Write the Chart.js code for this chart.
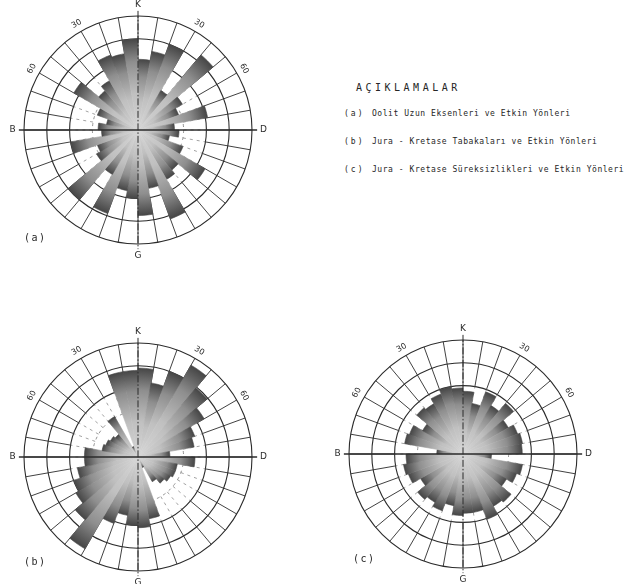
<!DOCTYPE html>
<html lang="tr">
<head>
<meta charset="utf-8">
<title>Gül diyagramları</title>
<script src="https://cdn.jsdelivr.net/npm/chart.js@4.4.1/dist/chart.umd.min.js"></script>
<style>
  html, body { margin: 0; padding: 0; background: #fff; }
  body { width: 631px; height: 584px; position: relative; overflow: hidden;
         font-family: "DejaVu Sans Mono", monospace; color: #262626; }
  canvas.rose { position: absolute; }
  .tag { position: absolute; font-size: 10px; letter-spacing: 1.5px; }
  #title { position: absolute; left: 356px; top: 82px; font-size: 10px; letter-spacing: 3.5px; }
  .item { position: absolute; left: 344px; font-size: 8px; letter-spacing: 0.55px; white-space: nowrap; }
  .item span { display: inline-block; width: 28px; letter-spacing: 2px; }
</style>
</head>
<body>
<canvas id="roseA" class="rose" width="280" height="280" style="left:-2px;top:-10px"></canvas>
<canvas id="roseB" class="rose" width="280" height="280" style="left:-2px;top:317px"></canvas>
<canvas id="roseC" class="rose" width="280" height="280" style="left:323px;top:314px"></canvas>

<div class="tag" style="left:24px;top:232px">(a)</div>
<div class="tag" style="left:24px;top:556px">(b)</div>
<div class="tag" style="left:353px;top:553px">(c)</div>

<div id="title">AÇIKLAMALAR</div>
<div class="item" style="top:109px"><span>(a)</span>Oolit Uzun Eksenleri ve Etkin Yönleri</div>
<div class="item" style="top:137px"><span>(b)</span>Jura - Kretase Tabakaları ve Etkin Yönleri</div>
<div class="item" style="top:165px"><span>(c)</span>Jura - Kretase Süreksizlikleri ve Etkin Yönleri</div>

<script>
// 10-degree sectors, clockwise from north
const sectorLabels = ['0°','10°','20°','30°','40°','50°','60°','70°','80°','90°','100°','110°',
                      '120°','130°','140°','150°','160°','170°','180°','190°','200°','210°','220°','230°',
                      '240°','250°','260°','270°','280°','290°','300°','310°','320°','330°','340°','350°'];

// (a) oolite long axes
const oolitAxes = [6.2, 7.0, 8.0, 4.0, 8.6, 4.5, 3.8, 6.2, 3.2, 3.6, 2.8, 4.2,
                   6.8, 4.6, 5.0, 8.3, 5.2, 7.5, 6.0, 5.4, 7.8, 4.5, 8.0, 4.2,
                   3.8, 6.0, 3.2, 3.5, 2.8, 3.8, 6.5, 4.5, 5.0, 7.0, 6.8, 8.0];

// (b) Jurassic-Cretaceous bedding
const beddingPlanes = [7.8, 6.6, 8.0, 9.3, 7.9, 6.7, 5.3, 5.0, 2.8, 5.0, 3.5, 3.5,
                       3.3, 3.0, 2.5, 1.0, 5.5, 6.2, 6.0, 5.2, 6.2, 9.3, 7.2, 6.3,
                       6.0, 5.4, 4.7, 4.7, 3.2, 3.0, 2.8, 2.6, 4.1, 1.0, 7.6, 7.6];

// (c) Jurassic-Cretaceous discontinuities
const discontinuities = [5.5, 4.5, 5.8, 4.9, 5.8, 4.6, 5.1, 5.3, 5.2, 2.5, 5.3, 5.0,
                         4.4, 5.5, 5.3, 6.1, 5.2, 5.2, 5.4, 4.6, 5.3, 4.9, 5.2, 4.3,
                         5.1, 5.3, 5.0, 2.3, 5.2, 5.0, 4.1, 5.3, 5.1, 5.6, 6.0, 5.8];

// scale rings and compass annotations
const ringValues = [2, 4, 6, 8, 10];
const compassLetters = ['K', 'D', 'G', 'B'];
const compassAt = [0, 90, 180, 270];
const angleTickLabels = ['30', '60', '60', '30'];
const angleTickAt = [30, 60, 300, 330];

const INK = '#2b2b2b';

function sectorFill(ctx) {
  const chart = ctx.chart;
  const r = chart.scales.r;
  if (!r || ctx.type !== 'data' || r.xCenter === undefined) return '#8a8a8a';
  const outer = Math.max(r.getDistanceFromCenterForValue(ctx.raw), 2);
  const g = chart.ctx.createRadialGradient(r.xCenter, r.yCenter, 0, r.xCenter, r.yCenter, outer);
  g.addColorStop(0, '#d6d6d6');
  g.addColorStop(0.4, '#c0c0c0');
  g.addColorStop(0.75, '#8e8e8e');
  g.addColorStop(1, '#464646');
  return g;
}

// spokes, axes and the compass / degree lettering around each rose
const roseFrame = {
  id: 'roseFrame',
  beforeDatasetsDraw(chart) {
    const r = chart.scales.r, c = chart.ctx;
    const top = ringValues[ringValues.length - 1];
    c.save();
    for (let i = 0; i < sectorLabels.length; i++) {
      const a = r.getPointPositionForValue(i, ringValues[2]);
      const b = r.getPointPositionForValue(i, top);
      c.strokeStyle = INK;
      c.lineWidth = 0.9;
      c.setLineDash([]);
      c.beginPath(); c.moveTo(a.x, a.y); c.lineTo(b.x, b.y); c.stroke();
      const d = r.getPointPositionForValue(i, ringValues[1]);
      c.lineWidth = 0.7;
      c.strokeStyle = '#7a7a7a';
      c.setLineDash([3, 4]);
      c.beginPath(); c.moveTo(d.x, d.y); c.lineTo(a.x, a.y); c.stroke();
    }
    c.restore();
  },
  afterDatasetsDraw(chart) {
    const r = chart.scales.r, c = chart.ctx;
    const top = ringValues[ringValues.length - 1];
    const ext = top * 1.045;
    c.save();
    c.strokeStyle = INK;
    // east-west axis, solid
    let p = r.getPointPositionForValue(27, ext), q = r.getPointPositionForValue(9, ext);
    c.lineWidth = 1.6;
    c.beginPath(); c.moveTo(p.x, p.y); c.lineTo(q.x, q.y); c.stroke();
    // north-south axis, dash-dot
    p = r.getPointPositionForValue(0, ext); q = r.getPointPositionForValue(18, ext);
    c.lineWidth = 1;
    c.setLineDash([7, 2, 1.5, 2]);
    c.beginPath(); c.moveTo(p.x, p.y); c.lineTo(q.x, q.y); c.stroke();
    c.setLineDash([]);

    c.fillStyle = INK;
    c.textAlign = 'center';
    c.textBaseline = 'middle';
    c.font = '9px "DejaVu Sans"';
    compassLetters.forEach((t, k) => {
      const pos = r.getPointPositionForValue(compassAt[k] / 10, top * 1.1);
      c.fillText(t, pos.x, pos.y);
    });
    c.font = '8px "DejaVu Sans"';
    angleTickLabels.forEach((t, k) => {
      const deg = angleTickAt[k];
      const pos = r.getPointPositionForValue(deg / 10, top * 1.075);
      c.save();
      c.translate(pos.x, pos.y);
      c.rotate((deg > 180 ? deg - 360 : deg) * Math.PI / 180);
      c.fillText(t, 0, 0);
      c.restore();
    });
    c.restore();
  }
};

function makeRose(id, values) {
  return new Chart(document.getElementById(id), {
    type: 'polarArea',
    data: {
      labels: sectorLabels,
      datasets: [{
        data: values,
        backgroundColor: sectorFill,
        borderColor: sectorFill,
        borderWidth: 0.6
      }]
    },
    options: {
      responsive: false,
      animation: false,
      layout: { padding: 26 },
      plugins: { legend: { display: false }, tooltip: { enabled: false } },
      scales: {
        r: {
          min: 0,
          max: ringValues[ringValues.length - 1],
          startAngle: 0,
          ticks: { display: false, stepSize: ringValues[0] },
          angleLines: { display: false },
          pointLabels: { display: false },
          grid: {
            circular: true,
            color: (ctx) => ctx.tick && ctx.tick.value <= ringValues[0] ? 'rgba(0,0,0,0)'
                         : ctx.tick && ctx.tick.value === ringValues[1] ? '#777' : INK,
            lineWidth: (ctx) => ctx.tick && ctx.tick.value === ringValues[1] ? 0.8 : 1.1
          },
          border: {
            dash: (ctx) => ctx.tick && ctx.tick.value === ringValues[1] ? [3, 4] : []
          }
        }
      }
    },
    plugins: [roseFrame]
  });
}

makeRose('roseA', oolitAxes);
makeRose('roseB', beddingPlanes);
makeRose('roseC', discontinuities);
</script>
</body>
</html>
